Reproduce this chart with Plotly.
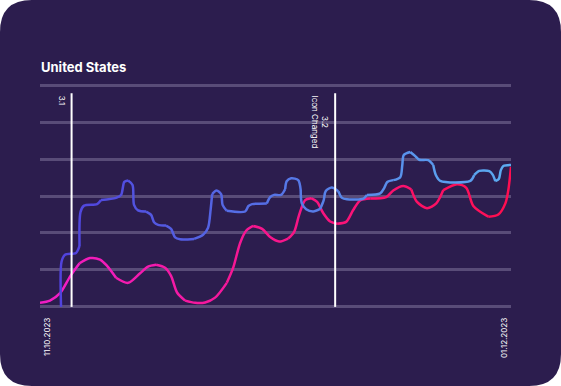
import plotly.graph_objects as go

# ---- data (x = days since 11.10.2023, y = index value) ----
x_ticks = [0, 51]
x_tick_labels = ["11.10.2023", "01.12.2023"]

blue_x = [2.28, 2.33, 2.71, 3.90, 4.28, 4.39, 4.77, 6.18, 6.61, 8.23, 8.78, 9.13, 9.54, 10.02, 10.18, 10.62,
          11.49, 12.03, 12.35, 12.79, 13.65, 14.19, 14.63, 15.17, 16.69, 17.66, 18.20, 18.47, 18.64, 19.12,
          19.61, 19.77, 20.21, 22.21, 22.57, 22.97, 24.56, 24.92, 25.35, 26.11, 26.55, 26.71, 27.20, 27.96,
          28.23, 28.34, 28.82, 29.58, 30.34, 30.72, 30.93, 31.59, 32.30, 32.70, 33.24, 35.03, 35.40, 36.84,
          37.28, 37.60, 38.25, 39.01, 39.23, 39.39, 40.09, 40.63, 41.07, 42.04, 42.58, 42.86, 43.34, 46.59,
          47.02, 47.56, 48.65, 49.03, 49.30, 49.68, 49.90, 50.17, 51.0]
blue_y = [0.00, 1.22, 1.41, 1.46, 1.65, 2.57, 2.74, 2.78, 2.89, 2.95, 3.03, 3.38, 3.42, 3.30, 2.76, 2.61,
          2.58, 2.49, 2.29, 2.22, 2.20, 2.11, 1.88, 1.83, 1.84, 1.95, 2.14, 2.62, 3.05, 3.15,
          3.05, 2.76, 2.60, 2.58, 2.73, 2.78, 2.80, 2.97, 3.03, 3.03, 3.19, 3.40, 3.48, 3.43,
          3.16, 2.81, 2.64, 2.58, 2.65, 2.89, 3.13, 3.23, 3.13, 2.95, 2.91, 2.93, 3.03, 3.07,
          3.22, 3.38, 3.43, 3.51, 3.84, 4.11, 4.19, 4.08, 3.98, 3.97, 3.84, 3.57, 3.41, 3.41,
          3.57, 3.68, 3.67, 3.57, 3.40, 3.46, 3.70, 3.81, 3.84]

pink_x = [0.0, 1.08, 2.17, 3.25, 4.28, 5.42, 6.50, 7.26, 8.23, 9.54, 10.84, 11.70, 12.57, 13.54, 14.19,
          14.84, 15.71, 16.80, 17.88, 18.96, 20.23, 20.92, 21.67, 22.32, 23.08, 24.05, 24.92, 25.89, 26.87,
          27.52, 28.06, 28.71, 29.36, 30.01, 30.66, 31.42, 32.18, 33.15, 33.91, 34.67, 35.76, 37.49, 38.25,
          39.33, 40.20, 40.82, 41.90, 42.91, 43.67, 45.15, 46.16, 46.92, 48.54, 49.63, 50.39, 50.71, 51.0]
pink_y = [0.11, 0.17, 0.37, 0.82, 1.18, 1.32, 1.28, 1.11, 0.79, 0.65, 0.91, 1.09, 1.14, 1.06, 0.84,
          0.39, 0.17, 0.11, 0.12, 0.25, 0.65, 1.06, 1.73, 2.06, 2.19, 2.11, 1.89, 1.77, 1.85,
          2.03, 2.49, 2.89, 2.94, 2.84, 2.54, 2.31, 2.25, 2.30, 2.62, 2.88, 2.93, 2.97, 3.15,
          3.27, 3.18, 2.84, 2.67, 2.80, 3.16, 3.32, 3.22, 2.73, 2.44, 2.50, 2.80, 3.16, 3.79]

event_x = [3.42, 31.96]
event_labels = ["3.1", "3.2<br>Icon Changed"]
event_top = 5.78
title = "United States"

BG = "#2c1d4e"
GRID = "#594c78"


def lerp(c0, c1, t):
    t = max(0.0, min(1.0, t))
    return "rgb(%d,%d,%d)" % tuple(round(a + (b - a) * t) for a, b in zip(c0, c1))


fig = go.Figure()


def add_gradient_line(xs, ys, c0, c1, seg=4):
    n = len(xs)
    i = 0
    while i < n - 1:
        j = min(i + seg, n - 1)
        t = ((xs[i] + xs[j]) / 2) / 51.0
        fig.add_trace(go.Scatter(
            x=xs[i:j + 1], y=ys[i:j + 1], mode="lines",
            line=dict(color=lerp(c0, c1, t), width=2.5, shape="spline", smoothing=0.8),
            hoverinfo="skip", showlegend=False))
        i = j


add_gradient_line(pink_x, pink_y, (240, 30, 200), (255, 14, 78))
add_gradient_line(blue_x, blue_y, (80, 60, 220), (92, 172, 240))

# card background with rounded corners (paper coords extended to full figure)
W, H = 561, 386
ml, mr, mt, mb = 40, 50, 84, 78
pw, ph = W - ml - mr, H - mt - mb
def px(v):
    return (v - ml) / pw
def py(v):
    return 1 - (v - mt) / ph
r = 32
path = (f"M {px(r)},{py(0)} L {px(W - r)},{py(0)} Q {px(W)},{py(0)} {px(W)},{py(r)} "
        f"L {px(W)},{py(H - r)} Q {px(W)},{py(H)} {px(W - r)},{py(H)} "
        f"L {px(r)},{py(H)} Q {px(0)},{py(H)} {px(0)},{py(H - r)} "
        f"L {px(0)},{py(r)} Q {px(0)},{py(0)} {px(r)},{py(0)} Z")
shapes = [dict(type="path", path=path, xref="paper", yref="paper",
               fillcolor=BG, line=dict(width=0), layer="below")]
for ex in event_x:
    shapes.append(dict(type="line", x0=ex, x1=ex, y0=0, y1=event_top, xref="x", yref="y",
                       line=dict(color="white", width=2), layer="above"))

annotations = [dict(text="<b>" + title + "</b>", x=0, y=1, xref="paper", yref="paper",
                    xanchor="left", yanchor="middle", yshift=17, xshift=-1, showarrow=False,
                    font=dict(family="Inter", size=13, color="white"))]
for ex, lab in zip(event_x, event_labels):
    annotations.append(dict(text=lab, x=ex, y=event_top, xref="x", yref="y", textangle=90,
                            xanchor="right", yanchor="top", xshift=-3, showarrow=False,
                            font=dict(family="Inter", size=8, color="white")))
annotations.append(dict(text=x_tick_labels[0], x=x_ticks[0], y=0, xref="x", yref="paper",
                        textangle=-90, xanchor="left", yanchor="top", yshift=-8, showarrow=False,
                        font=dict(family="Inter", size=8, color="white")))
annotations.append(dict(text=x_tick_labels[1], x=x_ticks[1], y=0, xref="x", yref="paper",
                        textangle=-90, xanchor="right", yanchor="top", yshift=-8, showarrow=False,
                        font=dict(family="Inter", size=8, color="white")))

fig.update_layout(
    width=W, height=H, margin=dict(l=ml, r=mr, t=mt, b=mb),
    paper_bgcolor="white", plot_bgcolor="rgba(0,0,0,0)",
    shapes=shapes, annotations=annotations, showlegend=False,
    xaxis=dict(range=[0, 51], showgrid=False, zeroline=False, showticklabels=False, ticks=""),
    yaxis=dict(range=[-0.03, 6.03], tickvals=[0, 1, 2, 3, 4, 5, 6], showgrid=True,
               gridcolor=GRID, gridwidth=3, zeroline=False, showticklabels=False, ticks=""),
)

fig.write_html("out.html", config={"displayModeBar": False},
               post_script="document.body.style.margin='0';document.body.style.overflow='hidden';")
